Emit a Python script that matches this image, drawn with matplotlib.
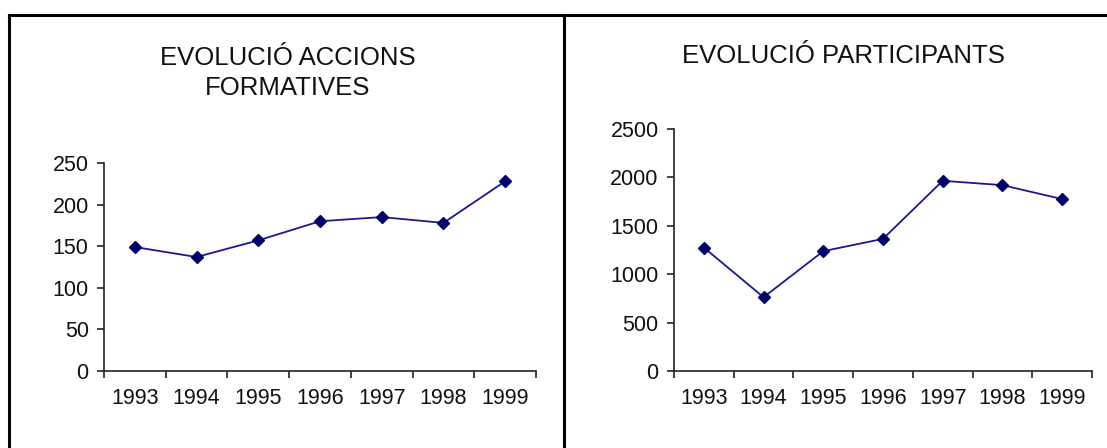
import matplotlib
matplotlib.use("Agg")
import matplotlib.pyplot as plt
from matplotlib.lines import Line2D

plt.rcParams['font.family'] = ['Liberation Sans', 'DejaVu Sans']

years = ['1993', '1994', '1995', '1996', '1997', '1998', '1999']
accions = [149, 137, 157, 180, 185, 178, 228]
participants = [1275, 762, 1238, 1365, 1965, 1920, 1776]

W, H = 1107, 448
fig = plt.figure(figsize=(W / 100, H / 100), dpi=100)

def px_axes(x0, y0, x1, y1):
    # pixel box (top-left origin) -> figure fraction
    return fig.add_axes([x0 / W, 1 - y1 / H, (x1 - x0) / W, (y1 - y0) / H])

def draw(ax, vals, ymax, step):
    x = [i + 0.5 for i in range(len(vals))]
    ax.plot(x, vals, color='#1a1a8c', lw=1.3, marker='D', ms=6.2,
            markerfacecolor='#000066', markeredgecolor='#000066')
    ax.set_xlim(0, len(vals))
    ax.set_ylim(0, ymax)
    ax.set_yticks(range(0, ymax + 1, step))
    ax.set_xticks(range(len(vals) + 1))
    ax.set_xticklabels([])
    ax.set_xticks(x, minor=True)
    ax.set_xticklabels(years, minor=True)
    for s in ['top', 'right']:
        ax.spines[s].set_visible(False)
    for s in ['left', 'bottom']:
        ax.spines[s].set_linewidth(1.2)
        ax.spines[s].set_color('#222222')
    ax.tick_params(axis='both', which='major', direction='out', length=5,
                   width=1.2, color='#222222')
    ax.tick_params(axis='x', which='minor', length=0, pad=12)
    ax.tick_params(axis='y', pad=6)
    for lab in ax.get_yticklabels() + ax.get_xticklabels(minor=True):
        lab.set_fontsize(15.5)
        lab.set_color('#111111')

ax1 = px_axes(104, 163, 536, 371)
draw(ax1, accions, 250, 50)
ax2 = px_axes(674, 129, 1092, 371)
draw(ax2, participants, 2500, 500)

fig.text(288 / W, 1 - 73 / H, 'EVOLUCIÓ ACCIONS\nFORMATIVES', ha='center', va='center',
         fontsize=18.5, linespacing=1.3, color='#111111')
fig.text(843 / W, 1 - 56 / H, 'EVOLUCIÓ PARTICIPANTS', ha='center', va='center',
         fontsize=18.5, color='#111111')

# frame lines
for xs, ys in [([9, W], [15, 15]), ([9, 9], [15, H]), ([564, 564], [15, H])]:
    fig.add_artist(Line2D([v / W for v in xs], [1 - v / H for v in ys],
                          color='black', lw=2.2, transform=fig.transFigure))

fig.savefig('out.png', dpi=100)
